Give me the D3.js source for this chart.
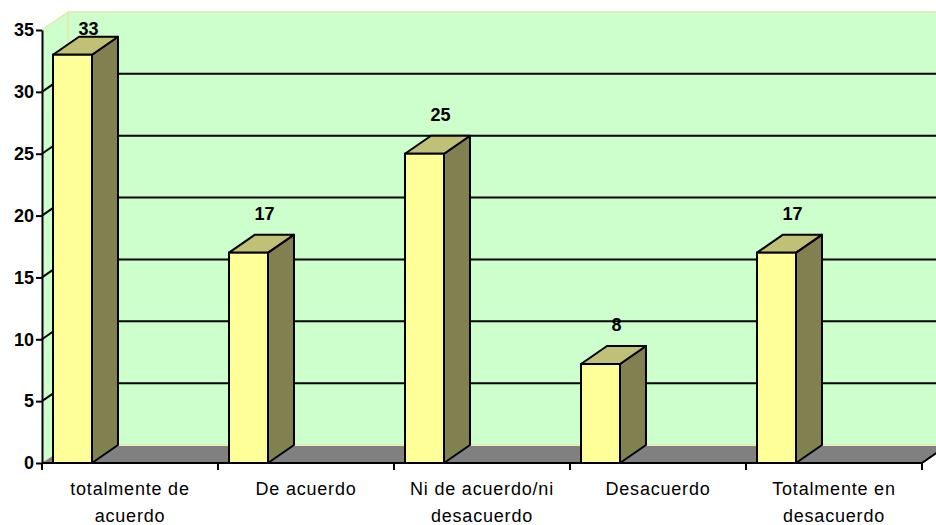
<!DOCTYPE html>
<html>
<head>
<meta charset="utf-8">
<script src="https://cdnjs.cloudflare.com/ajax/libs/d3/7.8.5/d3.min.js"></script>
<style>
  body { margin: 0; background: #fff; }
  svg { font-family: "Liberation Sans", Arial, sans-serif; }
</style>
</head>
<body>
<svg id="chart" width="936" height="525"></svg>
<script>
/* Categories and values */
var categories = [
    ["totalmente  de", "acuerdo"],
    ["De acuerdo"],
    ["Ni de acuerdo/ni", "desacuerdo"],
    ["Desacuerdo"],
    ["Totalmente en", "desacuerdo"]
];
var values = [33, 17, 25, 8, 17];
var yTicks = [0, 5, 10, 15, 20, 25, 30, 35];

var svg = d3.select("#chart");

/* Plot box (front plane) and 3D depth offset */
var plotLeft = 42, plotRight = 922, plotBottom = 463, plotTop = 30;
var dx = 26, dy = -18;

var x = d3.scaleBand()
    .domain(d3.range(values.length))
    .range([plotLeft, plotRight]);

var y = d3.scaleLinear()
    .domain([0, 35])
    .range([plotBottom, plotTop]);

var barOffset = 11, barWidth = 39;

function poly(pts) {
    return "M" + pts.map(function(p) { return p[0] + "," + p[1]; }).join("L") + "Z";
}

// Back wall
svg.append("path")
    .attr("d", poly([[plotLeft + dx, y(35) + dy], [plotRight + dx, y(35) + dy], [plotRight + dx, y(0) + dy], [plotLeft + dx, y(0) + dy]]))
    .attr("fill", "#ccffcc");

// Left side wall
svg.append("path")
    .attr("d", poly([[plotLeft, y(35)], [plotLeft + dx, y(35) + dy], [plotLeft + dx, y(0) + dy], [plotLeft, y(0)]]))
    .attr("fill", "#ccffcc");

// Light borders of the walls
var wallEdge = "#e6e6a8";
svg.append("path")
    .attr("d", "M" + plotLeft + "," + y(35) + "L" + (plotLeft + dx) + "," + (y(35) + dy) + "L" + (plotRight + dx) + "," + (y(35) + dy))
    .attr("fill", "none").attr("stroke", wallEdge).attr("stroke-width", 1.5);
svg.append("path")
    .attr("d", "M" + (plotLeft + dx) + "," + (y(35) + dy) + "L" + (plotLeft + dx) + "," + (y(0) + dy) + "L" + (plotRight + dx) + "," + (y(0) + dy))
    .attr("fill", "none").attr("stroke", wallEdge).attr("stroke-width", 1.5);
svg.append("path")
    .attr("d", "M" + plotLeft + "," + y(0) + "L" + (plotLeft + dx) + "," + (y(0) + dy))
    .attr("fill", "none").attr("stroke", wallEdge).attr("stroke-width", 1.5);

// Floor
svg.append("path")
    .attr("d", poly([[plotLeft, y(0)], [plotLeft + dx, y(0) + dy + 1], [plotRight + dx, y(0) + dy + 1], [plotRight, y(0)]]))
    .attr("fill", "#808080");

// Gridlines on the side wall and back wall
var grid = yTicks.filter(function(t) { return t > 0 && t < 35; });
svg.selectAll(".grid")
    .data(grid)
    .enter().append("path")
    .attr("class", "grid")
    .attr("d", function(t) {
        return "M" + plotLeft + "," + y(t) + "L" + (plotLeft + dx) + "," + (y(t) + dy) + "L" + (plotRight + dx) + "," + (y(t) + dy);
    })
    .attr("fill", "none")
    .attr("stroke", "#000")
    .attr("stroke-width", 2);

// Bars: side, top, then front face
var bars = svg.selectAll(".bar")
    .data(values)
    .enter().append("g")
    .attr("class", "bar");

bars.append("path")
    .attr("d", function(v, i) {
        var x1 = x(i) + barOffset + barWidth;
        return poly([[x1, y(v)], [x1 + dx, y(v) + dy], [x1 + dx, y(0) + dy], [x1, y(0)]]);
    })
    .attr("fill", "#808050").attr("stroke", "#000").attr("stroke-width", 2).attr("stroke-linejoin", "round");

bars.append("path")
    .attr("d", function(v, i) {
        var x0 = x(i) + barOffset, x1 = x0 + barWidth;
        return poly([[x0, y(v)], [x0 + dx, y(v) + dy], [x1 + dx, y(v) + dy], [x1, y(v)]]);
    })
    .attr("fill", "#c0c077").attr("stroke", "#000").attr("stroke-width", 2).attr("stroke-linejoin", "round");

bars.append("rect")
    .attr("x", function(v, i) { return x(i) + barOffset; })
    .attr("y", function(v) { return y(v); })
    .attr("width", barWidth)
    .attr("height", function(v) { return y(0) - y(v); })
    .attr("fill", "#ffff99").attr("stroke", "#000").attr("stroke-width", 2);

// Value labels
bars.append("text")
    .attr("x", function(v, i) { return x(i) + barOffset + barWidth / 2 + dx / 2 + 3; })
    .attr("y", function(v) { return Math.max(y(v) + dy - 15, 35); })
    .attr("text-anchor", "middle")
    .attr("font-size", 18)
    .attr("font-weight", "bold")
    .text(function(v) { return v; });

// Y axis
var yAxis = svg.append("g")
    .attr("transform", "translate(" + plotLeft + ",0)")
    .call(d3.axisLeft(y).tickValues(yTicks).tickSize(6).tickSizeOuter(0).tickPadding(2));
yAxis.select(".domain").attr("stroke", "#000").attr("stroke-width", 2);
yAxis.selectAll(".tick line").attr("stroke", "#000").attr("stroke-width", 2);
yAxis.selectAll(".tick text")
    .attr("font-size", 18)
    .attr("font-weight", "bold")
    .attr("font-family", "Liberation Sans, Arial, sans-serif")
    .attr("fill", "#000");

// X axis line and ticks at category boundaries
svg.append("line")
    .attr("x1", plotLeft).attr("x2", plotRight)
    .attr("y1", y(0)).attr("y2", y(0))
    .attr("stroke", "#000").attr("stroke-width", 2);
svg.append("line")
    .attr("x1", plotRight).attr("y1", y(0))
    .attr("x2", plotRight + dx).attr("y2", y(0) + dy)
    .attr("stroke", "#000").attr("stroke-width", 2);

var bounds = d3.range(values.length + 1);
svg.selectAll(".xtick")
    .data(bounds)
    .enter().append("line")
    .attr("class", "xtick")
    .attr("x1", function(i) { return i < values.length ? x(i) : plotRight; })
    .attr("x2", function(i) { return i < values.length ? x(i) : plotRight; })
    .attr("y1", y(0))
    .attr("y2", y(0) + 7)
    .attr("stroke", "#000").attr("stroke-width", 2);

// Category labels
var xl = svg.selectAll(".xlabel")
    .data(categories)
    .enter().append("text")
    .attr("class", "xlabel")
    .attr("text-anchor", "middle")
    .attr("font-size", 18)
    .attr("letter-spacing", 0.8)
    .attr("fill", "#000");
xl.selectAll("tspan")
    .data(function(lines, i) { return lines.map(function(l) { return { l: l, i: i }; }); })
    .enter().append("tspan")
    .attr("x", function(d) { return x(d.i) + x.bandwidth() / 2; })
    .attr("y", function(d, j) { return 495 + j * 27; })
    .text(function(d) { return d.l; });
</script>
</body>
</html>
